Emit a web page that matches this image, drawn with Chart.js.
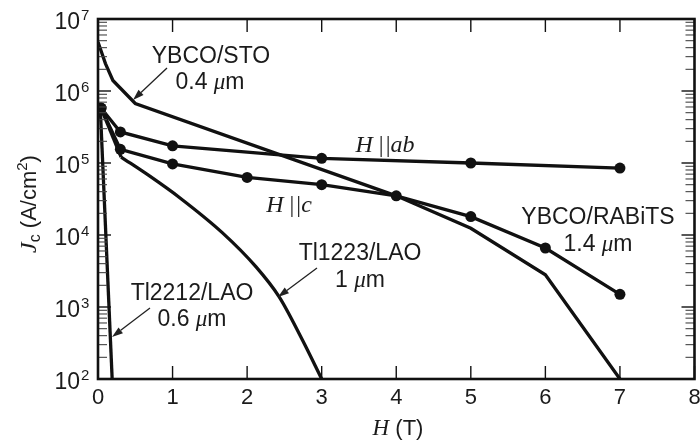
<!DOCTYPE html>
<html>
<head>
<meta charset="utf-8">
<script src="https://cdn.jsdelivr.net/npm/chart.js@4.4.1/dist/chart.umd.min.js"></script>
<style>
  html, body { margin: 0; padding: 0; background: #fff; }
  #wrap { width: 700px; height: 445px; }
</style>
</head>
<body>
<div id="wrap"><canvas id="c" width="700" height="445"></canvas></div>
<script>
// Critical current density vs applied field for several thin films
const xTickLabels = ['0', '1', '2', '3', '4', '5', '6', '7', '8'];
const yTickExponents = [2, 3, 4, 5, 6, 7];

// YBCO/RABiTS 1.4 um, H parallel to ab
const fieldAb = [0.04, 0.3, 1, 3, 5, 7];
const jcAb = [5.8e5, 2.7e5, 1.73e5, 1.16e5, 1.0e5, 8.5e4];

// YBCO/RABiTS 1.4 um, H parallel to c
const fieldC = [0.04, 0.3, 1, 2, 3, 4, 5, 6, 7];
const jcC = [5.8e5, 1.55e5, 9.7e4, 6.3e4, 5.0e4, 3.5e4, 1.8e4, 6.6e3, 1.5e3];

// YBCO/STO 0.4 um
const fieldSTO = [0, 0.1, 0.2, 0.5, 4, 5, 6, 7];
const jcSTO = [4.8e6, 2.4e6, 1.4e6, 6.7e5, 3.5e4, 1.24e4, 2.8e3, 100];

// Tl1223/LAO 1 um
const field1223 = [0.04, 0.31, 0.7, 1.1, 1.67, 2.12, 2.43, 2.74, 3.0];
const jc1223 = [5.8e5, 1.21e5, 6.5e4, 3.27e4, 1.07e4, 3.6e3, 1.38e3, 350, 100];

// Tl2212/LAO 0.6 um
const field2212 = [0.03, 0.19];
const jc2212 = [6.0e5, 100];

const pts = (xs, ys) => xs.map((v, i) => ({ x: v, y: ys[i] }));

const INK = '#111';
const TEXT = '#1b1b1b';
const SANS = '"Liberation Sans", Arial, Helvetica, sans-serif';
const SERIF = '"Liberation Serif", "Times New Roman", serif';

const lineBase = {
  borderColor: INK, borderWidth: 3.3, pointRadius: 0, tension: 0, fill: false
};
const markerBase = {
  borderColor: INK, borderWidth: 3.3, pointRadius: 5.5, pointHoverRadius: 5.5,
  pointBackgroundColor: INK, pointBorderColor: INK, pointBorderWidth: 0,
  tension: 0, fill: false
};

const datasets = [
  { label: 'YBCO/STO', data: pts(fieldSTO, jcSTO), ...lineBase },
  { label: 'Tl2212/LAO', data: pts(field2212, jc2212), ...lineBase },
  { label: 'Tl1223/LAO', data: pts(field1223.slice(0, 2), jc1223.slice(0, 2)), ...lineBase },
  { label: 'Tl1223/LAO', data: pts(field1223.slice(1), jc1223.slice(1)), ...lineBase,
    cubicInterpolationMode: 'monotone' },
  { label: 'H||c', data: pts(fieldC, jcC), ...markerBase },
  { label: 'H||ab', data: pts(fieldAb, jcAb), ...markerBase }
];

const F = (size, style, fam) => `${style ? style + ' ' : ''}${size}px ${fam || SANS}`;
const mu = F(23, 'italic', SERIF);
const mathIt = F(24, 'italic', SERIF);
const mathUp = F(24, '', SERIF);

// text notes: centre x, baseline y
const notes = [
  { x: 211, y: 63, parts: [{ t: 'YBCO/STO' }] },
  { x: 210, y: 89, parts: [{ t: '0.4 ' }, { t: 'μ', font: mu }, { t: 'm' }] },
  { x: 385, y: 152, parts: [{ t: 'H', font: mathIt }, { t: ' |', font: mathUp },
                            { t: '|', font: mathUp, gap: 2 }, { t: 'ab', font: mathIt }] },
  { x: 289, y: 212, parts: [{ t: 'H', font: mathIt }, { t: ' |', font: mathUp },
                            { t: '|', font: mathUp, gap: 2 }, { t: 'c', font: mathIt }] },
  { x: 598, y: 224, parts: [{ t: 'YBCO/RABiTS' }] },
  { x: 598, y: 251, parts: [{ t: '1.4 ' }, { t: 'μ', font: mu }, { t: 'm' }] },
  { x: 360, y: 260, parts: [{ t: 'Tl1223/LAO' }] },
  { x: 360, y: 287, parts: [{ t: '1 ' }, { t: 'μ', font: mu }, { t: 'm' }] },
  { x: 192, y: 300, parts: [{ t: 'Tl2212/LAO' }] },
  { x: 192, y: 326, parts: [{ t: '0.6 ' }, { t: 'μ', font: mu }, { t: 'm' }] }
];

// leader arrows: tail -> head
const arrows = [
  { from: [167, 68], to: [133, 100] },
  { from: [317, 268], to: [278, 297] },
  { from: [150, 308], to: [112, 337] }
];

function drawParts(ctx, parts, x, y, align) {
  const base = F(23);
  let w = 0;
  parts.forEach(p => { ctx.font = p.font || base; p.w = ctx.measureText(p.t).width + (p.gap || 0); w += p.w; });
  let cx = align === 'left' ? x : align === 'right' ? x - w : x - w / 2;
  ctx.textAlign = 'left';
  ctx.textBaseline = 'alphabetic';
  parts.forEach(p => {
    ctx.font = p.font || base;
    ctx.fillText(p.t, cx + (p.gap || 0), y + (p.dy || 0));
    cx += p.w;
  });
  return w;
}

function drawArrow(ctx, a, b) {
  const ang = Math.atan2(b[1] - a[1], b[0] - a[0]);
  const L = 11, W = 3.6;
  const bx = b[0] - L * Math.cos(ang), by = b[1] - L * Math.sin(ang);
  ctx.beginPath();
  ctx.moveTo(a[0], a[1]);
  ctx.lineTo(bx, by);
  ctx.lineWidth = 1.3;
  ctx.stroke();
  ctx.beginPath();
  ctx.moveTo(b[0], b[1]);
  ctx.lineTo(bx - W * Math.sin(ang), by + W * Math.cos(ang));
  ctx.lineTo(bx + W * Math.sin(ang), by - W * Math.cos(ang));
  ctx.closePath();
  ctx.fill();
}

const framePlugin = {
  id: 'frame',
  afterDatasetsDraw(chart) {
    const { ctx, chartArea: a, scales: { x, y } } = chart;
    ctx.save();
    ctx.strokeStyle = INK;
    ctx.fillStyle = INK;
    const seg = (x1, y1, x2, y2) => { ctx.beginPath(); ctx.moveTo(x1, y1); ctx.lineTo(x2, y2); ctx.stroke(); };

    // inward ticks on the field axis (top and bottom)
    ctx.lineWidth = 1.4;
    xTickLabels.forEach(lbl => {
      const px = x.getPixelForValue(Number(lbl));
      seg(px, a.bottom, px, a.bottom - 13);
      seg(px, a.top, px, a.top + 13);
    });

    // inward decade and minor ticks on both log axes
    yTickExponents.forEach(e => {
      for (let m = 1; m <= 9; m++) {
        const v = m * Math.pow(10, e);
        if (v > y.max) break;
        const py = y.getPixelForValue(v);
        const len = m === 1 ? 13 : 9;
        ctx.lineWidth = m === 1 ? 1.4 : 1.1;
        ctx.strokeStyle = m === 1 ? INK : '#444';
        seg(a.left, py, a.left + len, py);
        seg(a.right, py, a.right - len, py);
      }
    });

    // plot frame
    ctx.strokeStyle = INK;
    ctx.lineWidth = 2.6;
    ctx.strokeRect(a.left, a.top, a.right - a.left, a.bottom - a.top);

    // tick labels
    ctx.fillStyle = TEXT;
    ctx.font = F(22);
    ctx.textAlign = 'center';
    ctx.textBaseline = 'middle';
    xTickLabels.forEach(lbl => {
      ctx.fillText(lbl, x.getPixelForValue(Number(lbl)), a.bottom + 19);
    });
    yTickExponents.forEach(e => {
      const py = y.getPixelForValue(Math.pow(10, e));
      ctx.textAlign = 'right';
      ctx.textBaseline = 'alphabetic';
      ctx.font = F(23);
      ctx.fillText('10', 80, py + 10);
      ctx.textAlign = 'left';
      ctx.font = F(15);
      ctx.fillText(String(e), 81, py + 1);
    });

    // axis titles
    drawParts(ctx, [{ t: 'H', font: F(23, 'italic', SERIF) }, { t: ' (T)', font: F(22) }], 398, 435, 'center');

    ctx.save();
    ctx.translate(36, 204);
    ctx.rotate(-Math.PI / 2);
    drawParts(ctx, [
      { t: 'J', font: F(24, 'italic', SERIF) },
      { t: 'c', font: F(16), dy: 4 },
      { t: ' (A/cm', font: F(22) },
      { t: '2', font: F(15), dy: -9 },
      { t: ')', font: F(22) }
    ], 0, 0, 'center');
    ctx.restore();

    // curve labels and leaders
    notes.forEach(n => drawParts(ctx, n.parts, n.x, n.y, 'center'));
    ctx.strokeStyle = '#222';
    ctx.fillStyle = '#222';
    arrows.forEach(ar => drawArrow(ctx, ar.from, ar.to));
    ctx.restore();
  }
};

new Chart(document.getElementById('c'), {
  type: 'line',
  data: { datasets },
  options: {
    responsive: false,
    animation: false,
    layout: { padding: { top: 19, right: 5, left: 0, bottom: 0 } },
    plugins: { legend: { display: false }, tooltip: { enabled: false } },
    scales: {
      x: {
        type: 'linear', min: 0, max: 8,
        grid: { display: false }, border: { display: false },
        ticks: { display: false },
        afterFit(s) { s.height = 66; }
      },
      y: {
        type: 'logarithmic', min: 100, max: 1e7,
        grid: { display: false }, border: { display: false },
        ticks: { display: false },
        afterFit(s) { s.width = 98; }
      }
    }
  },
  plugins: [framePlugin]
});
</script>
</body>
</html>
